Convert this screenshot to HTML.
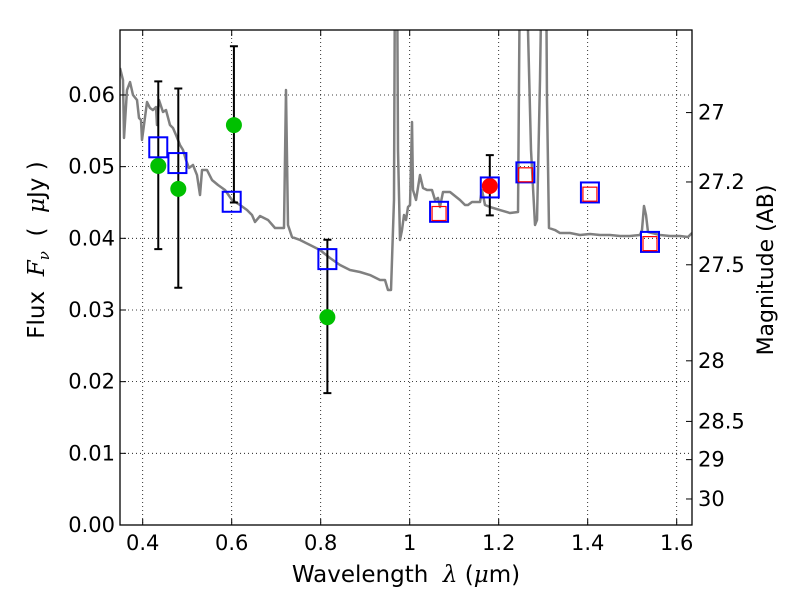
<!DOCTYPE html>
<html><head><meta charset="utf-8"><style>
body{margin:0;background:#fff;}
svg text{font-family:"DejaVu Sans","Liberation Sans",sans-serif;fill:#000;white-space:pre;}
</style></head><body>
<svg id="c" width="800" height="600" xmlns="http://www.w3.org/2000/svg"></svg>
<script>
const specPx=[[120,68],[123,80],[124,138],[127,90],[130,82],[133,95],[137,100],[139,118],[141,120],[142,140],[144,125],[147,102],[150,108],[153,110],[156,107],[157,125],[159,100],[163,112],[166,110],[170,125],[173,128],[176,135],[180,145],[183,150],[186,160],[189,168],[193,165],[197,175],[200,195],[202,170],[207,170],[212,180],[218,185],[225,190],[232,200],[240,205],[247,210],[252,215],[255,222],[260,216],[268,220],[275,228],[284,228],[286,90],[288,225],[292,237],[300,240],[310,245],[320,250],[330,258],[340,265],[350,270],[360,272],[370,275],[380,280],[385,280],[388,290],[391,290],[394,200],[395,-50],[397,-50],[398,150],[400,240],[402,230],[404,215],[406,220],[408,207],[410,205],[412,122],[413,190],[416,200],[420,175],[423,188],[427,190],[432,190],[435,200],[438,198],[440,207],[443,192],[450,192],[460,200],[465,205],[468,205],[472,202],[480,202],[482,190],[485,205],[490,207],[500,210],[510,213],[518,212],[520,-50],[524,-50],[528,30],[531,150],[535,225],[537,220],[540,80],[542,-50],[546,-50],[547,100],[549,228],[555,230],[560,233],[570,233],[580,235],[590,234],[600,235],[610,235],[620,236],[630,236],[640,235],[642,230],[644,206],[646,215],[648,232],[660,235],[670,236],[680,236],[688,237],[692,233]];
const specWave=specPx.map(p=>+(0.4+(p[0]-142.7)/445).toFixed(4));
const specFlux=specPx.map(p=>+((525-p[1])/7167).toFixed(5));
const modelWave=[0.435,0.478,0.6,0.815,1.066,1.18,1.26,1.405,1.54];
const modelFlux=[0.0527,0.0505,0.0451,0.0371,0.0437,0.0471,0.0492,0.0464,0.0395];
const synthWave=[1.066,1.26,1.405,1.54];
const synthFlux=[0.0436,0.0490,0.0463,0.0394];
const obsWave=[0.435,0.48,0.605,0.815];
const obsFlux=[0.0501,0.0469,0.0558,0.029];
const obsLo=[0.0385,0.0331,0.0450,0.0184];
const obsHi=[0.0619,0.0609,0.0668,0.0398];
const irWave=[1.18],irFlux=[0.0473],irLo=[0.0432],irHi=[0.0516];
const xTicks=[0.4,0.6,0.8,1.0,1.2,1.4,1.6];
const xLabels=["0.4","0.6","0.8","1","1.2","1.4","1.6"];
const yTicks=[0,0.01,0.02,0.03,0.04,0.05,0.06];
const yLabels=["0.00","0.01","0.02","0.03","0.04","0.05","0.06"];
const magTicks=[27,27.2,27.5,28,28.5,29,30];
const magLabels=["27","27.2","27.5","28","28.5","29","30"];

const L=120,R=692,T=30,B=525;
const X=v=>142.7+(v-0.4)*445;
const Y=v=>525-v*7167;
const M=m=>Y(Math.pow(10,(23.9-m)/2.5));
const svg=document.getElementById('c');
const NS='http://www.w3.org/2000/svg';
function mk(t,a,p){const e=document.createElementNS(NS,t);for(const k in a)e.setAttribute(k,a[k]);(p||svg).appendChild(e);return e;}
mk('defs',{}).innerHTML='<clipPath id="pc"><rect x="120" y="30" width="572" height="495"/></clipPath>';
const g=mk('g',{'clip-path':'url(#pc)'});


xTicks.forEach(v=>{const l=mk('line',{x1:X(v),x2:X(v),y1:T,y2:B,stroke:'#000','stroke-width':0.8,'stroke-dasharray':'1,3'},g);

});
yTicks.forEach(v=>{const l=mk('line',{x1:L,x2:R,y1:Y(v),y2:Y(v),stroke:'#000','stroke-width':0.8,'stroke-dasharray':'1,3'},g);

});
const sp=mk('polyline',{points:specWave.map((w,i)=>X(w)+','+Y(specFlux[i])).join(' '),fill:'none',stroke:'#808080','stroke-width':2.5,'stroke-linejoin':'round'},g);


function err(w,f,lo,hi,col,r,name){w.forEach((v,i)=>{const x=X(v);
 const e=mk('path',{d:`M${x},${Y(lo[i])}V${Y(hi[i])}M${x-4},${Y(lo[i])}h8M${x-4},${Y(hi[i])}h8`,stroke:'#000','stroke-width':2,fill:'none'},g);
 
 
 const c=mk('circle',{cx:x,cy:Y(f[i]),r:r,fill:col},g);
 
 });}
err(obsWave,obsFlux,obsLo,obsHi,'#00c000',8,'observed-point');
err(irWave,irFlux,irLo,irHi,'#ff0000',8,'ir-point');
modelWave.forEach((v,i)=>{const s=mk('rect',{x:X(v)-9,y:Y(modelFlux[i])-10,width:18,height:20,fill:'none',stroke:'#0000ff','stroke-width':2},g);

});
synthWave.forEach((v,i)=>{const s=mk('rect',{x:X(v)-7,y:Y(synthFlux[i])-6,width:14,height:14,fill:'none',stroke:'#ff0000','stroke-width':1.2},g);

});
const fr=mk('rect',{x:L,y:T,width:R-L,height:B-T,fill:'none',stroke:'#000','stroke-width':1.3});


xTicks.forEach((v,i)=>{mk('path',{d:`M${X(v)},${B}v-6M${X(v)},${T}v6`,stroke:'#000'});
 const t=mk('text',{x:X(v),y:B+25,'font-size':21,'text-anchor':'middle'});t.textContent=xLabels[i];
 
 });
yTicks.forEach((v,i)=>{mk('path',{d:`M${L},${Y(v)}h6`,stroke:'#000'});
 const t=mk('text',{x:L-5,y:Y(v)+7,'font-size':21,'text-anchor':'end'});t.textContent=yLabels[i];
 
 });
magTicks.forEach((m,i)=>{mk('path',{d:`M${R},${M(m)}h-6`,stroke:'#000'});
 const t=mk('text',{x:R+6,y:M(m)+7,'font-size':21});t.textContent=magLabels[i];
 
 });
const xt=mk('text',{x:406,y:582,'font-size':23,'text-anchor':'middle'});
xt.innerHTML='Wavelength  <tspan font-style="italic" font-family="DejaVu Serif">λ</tspan> (<tspan font-style="italic" font-family="DejaVu Serif">μ</tspan>m)';


const yt=mk('text',{x:0,y:0,'font-size':23,'text-anchor':'middle',transform:'translate(44,250) rotate(-90)'});
yt.innerHTML='Flux  <tspan font-style="italic" font-family="DejaVu Serif">F<tspan font-size="15" dy="5">ν</tspan></tspan><tspan dy="-5">  (  </tspan><tspan font-style="italic" font-family="DejaVu Serif">μ</tspan>Jy )';


const rt=mk('text',{x:0,y:0,'font-size':22,'text-anchor':'middle',transform:'translate(773,270) rotate(-90)'});
rt.textContent='Magnitude (AB)';


</script>
</body></html>
